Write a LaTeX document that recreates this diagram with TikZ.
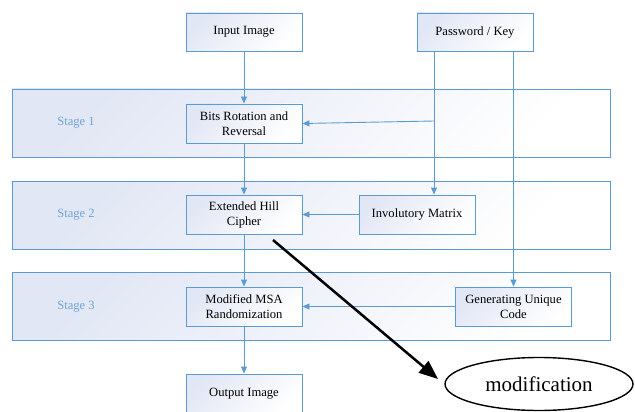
\documentclass[tikz,border=0pt]{standalone}
\usepackage{fontspec}
\setmainfont{Liberation Serif}
\usetikzlibrary{arrows.meta,shapes.geometric}
\definecolor{lblue}{HTML}{5B9BD5}
\definecolor{stagec}{HTML}{6FA3DA}
\definecolor{tint}{HTML}{E2E7F5}
\begin{document}
\begin{tikzpicture}[x=1pt,y=-1pt,
  bandbox/.style={draw=lblue,line width=0.9pt,left color=tint,right color=white,shading angle=45,minimum width=598pt,minimum height=68pt,inner sep=0pt},
  procbox/.style={draw=lblue,line width=0.9pt,left color=tint,right color=white,shading angle=45,minimum width=116pt,minimum height=39pt,inner sep=0pt,align=center,font=\fontsize{12.6}{15}\selectfont},
  stagelbl/.style={text=stagec,font=\fontsize{12.6}{15}\selectfont},
  arr/.style={draw=lblue,line width=0.9pt,-{Triangle[length=7pt,width=6pt]}},
  ln/.style={draw=lblue,line width=0.9pt}]
\useasboundingbox (0,0) rectangle (635,412);
% bands
\node[bandbox] (band1) at (311,123) {};
\node[bandbox] (band2) at (311,215.5) {};
\node[bandbox] (band3) at (311,306.5) {};
\node[stagelbl] (s1) at (76,123) {Stage 1};
\node[stagelbl] (s2) at (76,215) {Stage 2};
\node[stagelbl] (s3) at (76,307) {Stage 3};
% boxes
\node[procbox,minimum height=38pt] (inp) at (244,32) {Input Image};
\node[procbox,minimum height=38pt] (pass) at (475,32) {Password / Key};
\node[procbox] (bits) at (244,123.5) {Bits Rotation and\\Reversal};
\node[procbox] (hill) at (244,214.5) {Extended Hill\\Cipher};
\node[procbox] (inv) at (417,214.5) {Involutory Matrix};
\node[procbox] (msa) at (244,306.5) {Modified MSA\\Randomization};
\node[procbox] (gen) at (513.5,306.5) {Generating Unique\\Code};
\node[procbox,minimum height=40pt] (out) at (244,394) {Output Image};
% coordinates for key lines
\coordinate (k1) at (434,0);
\coordinate (k2) at (513.5,0);
\coordinate (p1) at (434,121);
% connectors
\draw[arr] (inp) -- (bits);
\draw[arr] (bits) -- (hill);
\draw[arr] (hill) -- (msa);
\draw[arr] (msa) -- (out);
\draw[arr] (pass.south -| k1) -- (inv.north -| k1);
\draw[arr] (pass.south -| k2) -- (gen.north);
\draw[arr] (p1) -- (bits.east);
\draw[arr] (inv) -- (hill);
\draw[arr] (gen) -- (msa);
% modification
\node[draw=black,line width=1.4pt,ellipse,minimum width=188pt,minimum height=53pt,inner sep=0pt,font=\fontsize{21}{24}\selectfont] (mod) at (539,384) {modification};
\coordinate (a0) at (273,240);
\coordinate (a1) at (438,379);
\draw[line width=2.5pt,-{Triangle[length=19pt,width=15pt]}] (a0) -- (a1);
\end{tikzpicture}
\end{document}
